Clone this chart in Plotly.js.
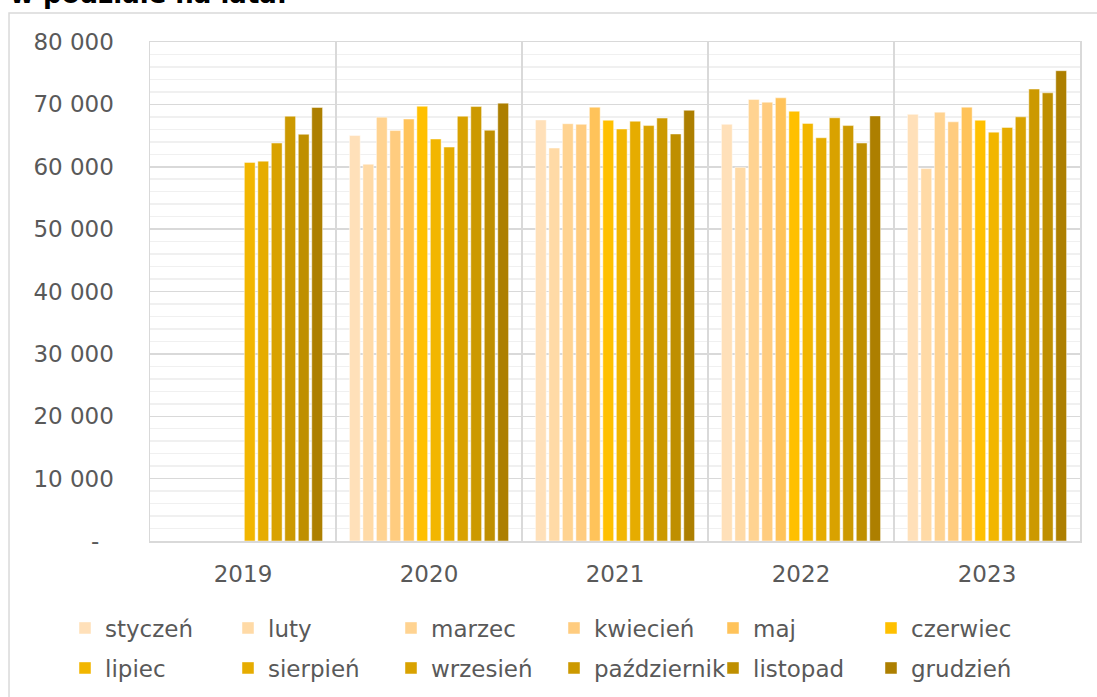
<!DOCTYPE html>
<html>
<head>
<meta charset="utf-8">
<script src="https://cdn.plot.ly/plotly-3.0.1.min.js"></script>
<style>html,body{margin:0;padding:0;background:#fff;}#chart{width:1097px;height:697px;}</style>
</head>
<body>
<div id="chart"></div>
<script>
var years = ['2019', '2020', '2021', '2022', '2023'];
var months = ['styczeń', 'luty', 'marzec', 'kwiecień', 'maj', 'czerwiec', 'lipiec', 'sierpień', 'wrzesień', 'październik', 'listopad', 'grudzień'];
var colors = ['#FFE0B9', '#FFDAA6', '#FFD391', '#FFCC7F', '#FFC35A', '#FFC000', '#F2B600', '#E6AC00', '#D9A200', '#CC9900', '#BF8F00', '#AD7F00'];

// values per month, across years 2019..2023
var styczen     = [null, 65000, 67500, 66800, 68400];
var luty        = [null, 60400, 63000, 59900, 59700];
var marzec      = [null, 67950, 66900, 70800, 68750];
var kwiecien    = [null, 65800, 66800, 70350, 67200];
var maj         = [null, 67650, 69550, 71050, 69550];
var czerwiec    = [null, 69700, 67450, 68900, 67450];
var lipiec      = [60700, 64450, 66050, 66950, 65550];
var sierpien    = [60900, 63150, 67300, 64650, 66300];
var wrzesien    = [63800, 68100, 66600, 67850, 68000];
var pazdziernik = [68100, 69650, 67800, 66600, 72450];
var listopad    = [65200, 65850, 65250, 63800, 71850];
var grudzien    = [69500, 70200, 69050, 68150, 75400];

var seriesValues = [styczen, luty, marzec, kwiecien, maj, czerwiec, lipiec, sierpien, wrzesien, pazdziernik, listopad, grudzien];

var yTickVals = [0, 10000, 20000, 30000, 40000, 50000, 60000, 70000, 80000];
var yTickText = ['-\u00a0\u00a0', '10 000', '20 000', '30 000', '40 000', '50 000', '60 000', '70 000', '80 000'];

var FONT = 'DejaVu Sans, Verdana, sans-serif';
var W = 1097, H = 697;

// legend grid placement (layout only): 6 columns x 2 rows
var legendColCenters = [86, 249, 412, 575, 734, 892];
var legendRowCenters = [628, 668];

var traces = months.map(function (m, i) {
  return {
    type: 'bar',
    name: m,
    x: years,
    y: seriesValues[i],
    marker: {color: colors[i], line: {color: 'rgba(255,255,255,0.45)', width: 1}},
    legend: i === 0 ? 'legend' : 'legend' + (i + 1),
    hoverinfo: 'x+y+name'
  };
});

var layout = {
  width: W,
  height: H,
  margin: {l: 150, r: 17, t: 42, b: 156},
  paper_bgcolor: '#ffffff',
  plot_bgcolor: '#ffffff',
  barmode: 'group',
  bargap: 0.13,
  bargroupgap: 0.2,
  showlegend: true,
  xaxis: {
    type: 'category',
    categoryorder: 'array',
    categoryarray: years,
    tickson: 'boundaries',
    showgrid: true,
    gridcolor: '#d9d9d9',
    gridwidth: 1.5,
    showline: true,
    linecolor: '#d9d9d9',
    linewidth: 1.5,
    mirror: true,
    ticks: '',
    ticklabelstandoff: 12,
    tickfont: {family: FONT, size: 23, color: '#595959'},
    fixedrange: true
  },
  yaxis: {
    range: [0, 80000],
    tickmode: 'array',
    tickvals: yTickVals,
    ticktext: yTickText,
    showgrid: true,
    gridcolor: '#d9d9d9',
    gridwidth: 1.5,
    minor: {dtick: 2000, tick0: 0, showgrid: true, gridcolor: '#f0f0f0', gridwidth: 1.5, ticks: ''},
    zeroline: false,
    showline: true,
    linecolor: '#d9d9d9',
    linewidth: 1.5,
    mirror: true,
    ticks: '',
    ticklabelstandoff: 30,
    tickfont: {family: FONT, size: 23, color: '#595959'},
    fixedrange: true
  },
  shapes: [{
    type: 'rect', xref: 'paper', yref: 'paper',
    x0: -0.1516, x1: 1.05, y0: -0.35, y1: 1.0581,
    line: {color: '#d9d9d9', width: 1.5},
    fillcolor: 'rgba(0,0,0,0)', layer: 'below'
  }],
  annotations: [{
    text: '<b>w podziale na lata.</b>',
    xref: 'paper', yref: 'paper',
    x: -0.153, y: 1.062,
    xanchor: 'left', yanchor: 'bottom',
    showarrow: false,
    font: {family: FONT, size: 26, color: '#000000'}
  }]
};

months.forEach(function (m, i) {
  var key = i === 0 ? 'legend' : 'legend' + (i + 1);
  var col = i % 6, row = Math.floor(i / 6);
  layout[key] = {
    orientation: 'h',
    xref: 'container',
    yref: 'container',
    xanchor: 'left',
    yanchor: 'middle',
    x: (legendColCenters[col] - 21) / W,
    y: 1 - legendRowCenters[row] / H,
    font: {family: FONT, size: 23, color: '#595959'},
    bgcolor: 'rgba(0,0,0,0)',
    borderwidth: 0
  };
});

Plotly.newPlot('chart', traces, layout, {displayModeBar: false, staticPlot: true});
</script>
</body>
</html>
